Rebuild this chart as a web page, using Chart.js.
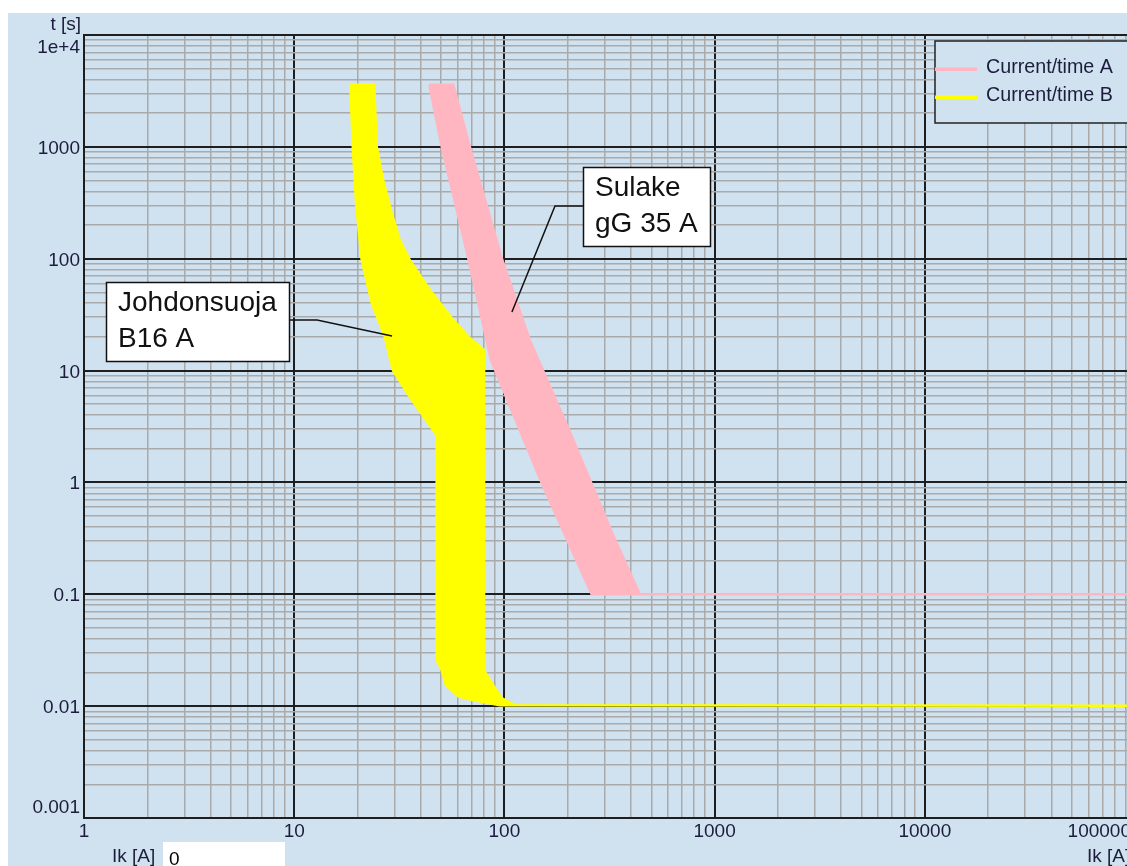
<!DOCTYPE html>
<html>
<head>
<meta charset="utf-8">
<script src="https://cdn.jsdelivr.net/npm/chart.js@4.4.1/dist/chart.umd.min.js"></script>
<style>
  html, body { margin: 0; padding: 0; background: #fff; overflow: hidden; }
  body { width: 1127px; height: 866px; position: relative; }
  #chart { position: absolute; left: 8px; top: 13px; }
</style>
</head>
<body>
<canvas id="chart" width="1137" height="853"></canvas>
<script>
// Current/time A : fuse gG 35 A (current [A], time [s] along each edge of the band)
const fuseLeftI  = [43.9, 50.3, 67.3, 86.3, 150, 260];
const fuseLeftT  = [3600, 1000, 101, 12.4, 1.0, 0.1];
const fuseRightI = [57.1, 68.5, 97.3, 132, 205, 332, 441];
const fuseRightT = [3600, 1000, 100, 18.8, 2.82, 0.325, 0.1];
const fuseTail   = [100000, 0.1];

// Current/time B : MCB B16 A
const mcbLeftI  = [18.5, 19, 19.7, 20.9, 21.5, 23.4, 27, 29.5, 35.5, 47.6, 47.6, 50.3, 52.7, 60.3, 70.8, 95];
const mcbLeftT  = [3600, 1000, 315, 100, 79, 40, 20, 10, 5.8, 2.65, 0.026, 0.021, 0.0155, 0.0122, 0.01135, 0.0102];
const mcbRightI = [24, 24.7, 26.5, 29.1, 31.8, 35.5, 44.2, 57.1, 68.5, 80, 80, 86.9, 97, 112];
const mcbRightT = [3600, 1000, 506, 256, 147, 97, 52.5, 28.3, 19.5, 15.3, 0.021, 0.0161, 0.0118, 0.0102];
const mcbTail   = [100000, 0.0101];

const seriesNames = ['Current/time A', 'Current/time B'];
const seriesColors = ['#ffb6c1', '#ffff00'];

const xTickValues = [1, 10, 100, 1000, 10000, 100000];
const xTickLabels = ['1', '10', '100', '1000', '10000', '100000'];
const yTickValues = [10000, 1000, 100, 10, 1, 0.1, 0.01, 0.001];
const yTickLabels = ['1e+4', '1000', '100', '10', '1', '0.1', '0.01', '0.001'];

const notes = [
  { lines: ['Johdonsuoja', 'B16 A'], box: [98, 269, 183, 79], elbow: [309, 307], target: [29.2, 20.4] },
  { lines: ['Sulake', 'gG 35 A'], box: [575, 154, 127, 79], elbow: [547, 193], target: [108.6, 33.4] }
];

const BG = '#d0e2f0';
const FONT = '19px "Liberation Sans", Arial, sans-serif';
const TEXT = '#1c1c3c';

// closed outline: left edge down, out along the tail, back up the right edge
function band(leftI, leftT, rightI, rightT, tail) {
  const pts = leftI.map((x, i) => ({ x, y: leftT[i] }));
  pts.push({ x: tail[0], y: tail[1] });
  for (let i = rightI.length - 1; i >= 0; i--) pts.push({ x: rightI[i], y: rightT[i] });
  pts.push(pts[0]);
  return pts;
}

function logTicks(min, max) {
  const out = [];
  for (let e = Math.round(Math.log10(min)); Math.pow(10, e) <= max * 1.0001; e++) {
    for (let k = 1; k <= 9; k++) {
      const v = k * Math.pow(10, e);
      if (v <= max * 1.0001) out.push({ value: v });
    }
  }
  return out;
}

function isMajor(v) {
  const l = Math.log10(v);
  return Math.abs(l - Math.round(l)) < 1e-6;
}

const gridOpts = {
  drawTicks: false,
  color: c => isMajor(c.tick.value) ? '#1e1e1e' : '#aaaaaa',
  lineWidth: c => isMajor(c.tick.value) ? 2 : 1.5
};

const extras = {
  id: 'extras',
  beforeDraw(chart) {
    const ctx = chart.ctx;
    ctx.save();
    ctx.fillStyle = BG;
    ctx.fillRect(0, 0, chart.width, chart.height);
    ctx.restore();
  },
  afterDraw(chart) {
    const ctx = chart.ctx;
    const a = chart.chartArea;
    const xs = chart.scales.x, ys = chart.scales.y;
    ctx.save();
    ctx.font = FONT;
    ctx.fillStyle = TEXT;
    ctx.textBaseline = 'alphabetic';

    // y tick labels
    ctx.textAlign = 'right';
    yTickValues.forEach((v, i) => {
      const py = Math.min(Math.max(ys.getPixelForValue(v) + 7, a.top + 18), a.bottom - 5);
      ctx.fillText(yTickLabels[i], a.left - 4, py);
    });
    // x tick labels
    ctx.textAlign = 'center';
    xTickValues.forEach((v, i) => {
      const w = ctx.measureText(xTickLabels[i]).width;
      let px = xs.getPixelForValue(v);
      if (px + w / 2 > a.right - 4) px = a.right - 4 - w / 2;
      ctx.fillText(xTickLabels[i], px, a.bottom + 19);
    });

    // axis titles
    ctx.textAlign = 'right';
    ctx.fillText('t [s]', a.left - 3, 17);
    ctx.textAlign = 'left';
    ctx.fillText('Ik [A]', 1079, 849);
    ctx.fillText('Ik [A]', 104, 849);
    ctx.fillStyle = '#ffffff';
    ctx.fillRect(155, 829, 122, 30);
    ctx.fillStyle = '#000';
    ctx.fillText('0', 161, 852);

    // legend
    ctx.fillStyle = BG;
    ctx.fillRect(927, 28, 220, 82);
    ctx.strokeStyle = '#222';
    ctx.lineWidth = 1.5;
    ctx.strokeRect(927, 28, 220, 82);
    ctx.font = '19.7px "Liberation Sans", Arial, sans-serif';
    chart.data.datasets.forEach((ds, i) => {
      const ly = 56 + i * 28;
      ctx.fillStyle = ds.borderColor;
      ctx.fillRect(927, ly - 1.5, 42, 3.5);
      ctx.fillStyle = TEXT;
      ctx.fillText(ds.label, 978, ly + 4);
    });

    // annotation boxes with leader lines
    ctx.font = '28px "Liberation Sans", Arial, sans-serif';
    notes.forEach(n => {
      const [bx, by, bw, bh] = n.box;
      const sx = n.elbow[0] > bx + bw ? bx + bw : bx;
      ctx.strokeStyle = '#111';
      ctx.lineWidth = 1.5;
      ctx.beginPath();
      ctx.moveTo(sx, n.elbow[1]);
      ctx.lineTo(n.elbow[0], n.elbow[1]);
      ctx.lineTo(xs.getPixelForValue(n.target[0]), ys.getPixelForValue(n.target[1]));
      ctx.stroke();
      ctx.fillStyle = '#fff';
      ctx.fillRect(bx, by, bw, bh);
      ctx.strokeRect(bx + 0.5, by + 0.5, bw, bh);
      ctx.fillStyle = '#111';
      n.lines.forEach((t, i) => ctx.fillText(t, bx + 12, by + 29 + i * 36));
    });
    ctx.restore();
  }
};

new Chart(document.getElementById('chart'), {
  type: 'scatter',
  data: {
    datasets: [
      {
        label: seriesNames[0],
        data: band(fuseLeftI, fuseLeftT, fuseRightI, fuseRightT, fuseTail),
        showLine: true,
        fill: 'shape',
        backgroundColor: seriesColors[0],
        borderColor: seriesColors[0],
        borderWidth: 2.5,
        pointRadius: 0,
        tension: 0
      },
      {
        label: seriesNames[1],
        data: band(mcbLeftI, mcbLeftT, mcbRightI, mcbRightT, mcbTail),
        showLine: true,
        fill: 'shape',
        backgroundColor: seriesColors[1],
        borderColor: seriesColors[1],
        borderWidth: 2.5,
        pointRadius: 0,
        tension: 0
      }
    ]
  },
  options: {
    responsive: false,
    animation: false,
    devicePixelRatio: 1,
    layout: { padding: { left: 76, top: 22, right: 10, bottom: 48 } },
    plugins: { legend: { display: false }, tooltip: { enabled: false } },
    scales: {
      x: {
        type: 'logarithmic', min: 1, max: 100000,
        afterBuildTicks: s => { s.ticks = logTicks(1, 100000); },
        ticks: { display: false, autoSkip: false, callback: () => '' },
        grid: gridOpts,
        border: { display: true, color: '#1e1e1e', width: 2 }
      },
      y: {
        type: 'logarithmic', min: 0.001, max: 10000,
        afterBuildTicks: s => { s.ticks = logTicks(0.001, 10000); },
        ticks: { display: false, autoSkip: false, callback: () => '' },
        grid: gridOpts,
        border: { display: true, color: '#1e1e1e', width: 2 }
      }
    }
  },
  plugins: [extras]
});
</script>
</body>
</html>
